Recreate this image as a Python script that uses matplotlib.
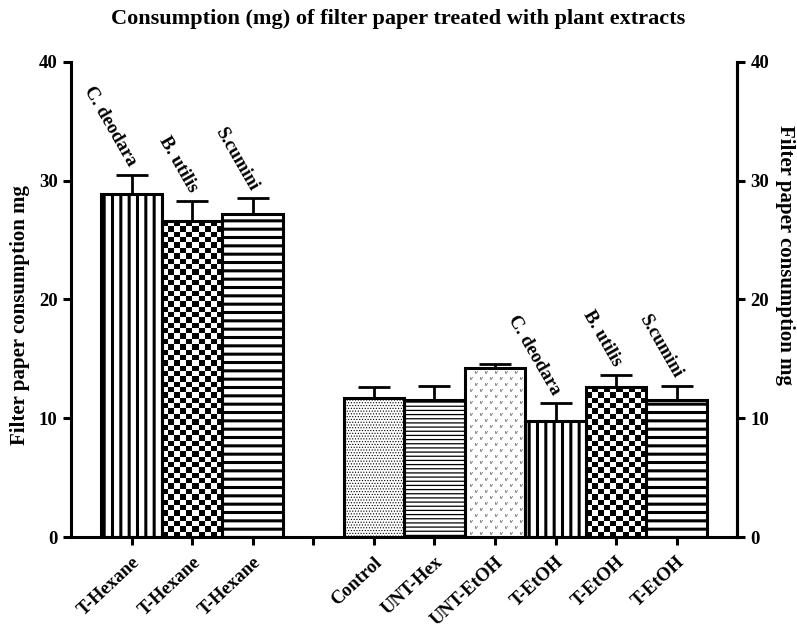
import numpy as np
import matplotlib
matplotlib.use("Agg")
import matplotlib.pyplot as plt

# values (mg)
tick_labels = ["T-Hexane", "T-Hexane", "T-Hexane",
               "Control", "UNT-Hex", "UNT-EtOH", "T-EtOH", "T-EtOH", "T-EtOH"]
means = [28.9, 26.6, 27.2, 11.7, 11.5, 14.2, 9.8, 12.6, 11.5]
errs = [1.6, 1.7, 1.3, 0.9, 1.2, 0.35, 1.5, 1.05, 1.25]
plant_names = ["C. deodara", "B. utilis", "S.cumini"]
# which bars carry a plant name
named_bars = [0, 1, 2, 6, 7, 8]

# fill style of each bar
fills = ["vlines", "checker", "hlines", "dots", "thinlines", "vees",
         "vlines", "checker", "hlines"]

plt.rcParams['font.family'] = 'Liberation Serif'
plt.rcParams['font.weight'] = 'bold'

# left group at 0..2, one empty slot, right group at 4..9
pos = np.r_[np.arange(3), np.arange(4, 10)]

fig = plt.figure(figsize=(7.97, 6.27), dpi=100)
ax = fig.add_axes([0.089, 0.1435, 0.836, 0.758])

lw = 2.2
for i, (x, h, f) in enumerate(zip(pos, means, fills)):
    hatch = {"vlines": "||", "hlines": "--", "thinlines": "----",
             "dots": "......"}.get(f)
    bar = ax.bar(x, h, width=1.0, facecolor="none", edgecolor="black",
                 linewidth=lw, hatch=hatch, zorder=3)[0]
    if hatch is not None and hasattr(bar, "set_hatch_linewidth"):
        bar.set_hatch_linewidth({"vlines": 2.2, "hlines": 2.2,
                                 "thinlines": 0.9, "dots": 0.5}[f])
    x0 = x - 0.5
    if f == "checker":
        nx, ny = 10, int(round(h / 0.45))
        board = (np.add.outer(np.arange(ny), np.arange(nx)) % 2)
        im = ax.imshow(board, cmap="gray", extent=[x0, x0 + 1, 0, ny * 0.45],
                       interpolation="nearest", aspect="auto", zorder=2,
                       origin="lower")
        im.set_clip_path(bar)
    elif f == "vees":
        rows = np.arange(0.35, h, 0.5)
        xs, ys = [], []
        for r, yy in enumerate(rows):
            off = 0.0 if r % 2 == 0 else 0.08
            for xx in np.arange(x0 + 0.1 + off, x0 + 1, 0.165):
                xs.append(xx)
                ys.append(yy)
        sc = ax.scatter(xs, ys, marker="$v$", s=5, c="0.4",
                        linewidths=0, zorder=2)
        sc.set_clip_path(bar)

ax.errorbar(pos, means, yerr=[np.zeros(len(means)), errs], fmt="none",
            ecolor="black", elinewidth=2.0, capsize=11.5, capthick=2.0,
            zorder=4)

for k, i in enumerate(named_bars):
    ax.text(pos[i] + 0.02, means[i] + errs[i] + 0.8, plant_names[k % 3],
            rotation=-60, rotation_mode="anchor", ha="right", va="center",
            fontsize=13.5, fontweight="bold")

ax.set_xlim(-1, 10)
ax.set_ylim(0, 40)
ax.set_xticks(np.arange(10))
ax.set_xticklabels(tick_labels[:3] + [""] + tick_labels[3:], rotation=43,
                   ha="right", rotation_mode="anchor", fontsize=13.5,
                   fontweight="bold")
ax.set_yticks([0, 10, 20, 30, 40])
ax.tick_params(axis="both", direction="out", length=6, width=2.2)
ax.tick_params(axis="y", labelsize=13.5)
ax.tick_params(axis="x", pad=6)
ax.spines["top"].set_visible(False)
for s in ["left", "right", "bottom"]:
    ax.spines[s].set_linewidth(lw)
ax.set_ylabel("Filter paper consumption mg", fontsize=15, fontweight="bold",
              rotation=90, va="center", ha="center")
ax.yaxis.set_label_coords(-0.077, 0.467)

ax2 = ax.twinx()
ax2.set_ylim(0, 40)
ax2.set_yticks([0, 10, 20, 30, 40])
ax2.tick_params(axis="y", direction="out", length=6, width=2.2,
                labelsize=13.5)
for s in ["top", "left", "bottom"]:
    ax2.spines[s].set_visible(False)
ax2.spines["right"].set_linewidth(lw)
ax2.set_ylabel("Filter paper consumption mg", fontsize=15, fontweight="bold",
               rotation=-90, va="center", ha="center")
ax2.yaxis.set_label_coords(1.072, 0.594)

fig.suptitle("Consumption (mg) of filter paper treated with plant extracts",
             x=0.5, y=0.985, fontsize=16, fontweight="bold")

fig.savefig("out.png", dpi=100)
